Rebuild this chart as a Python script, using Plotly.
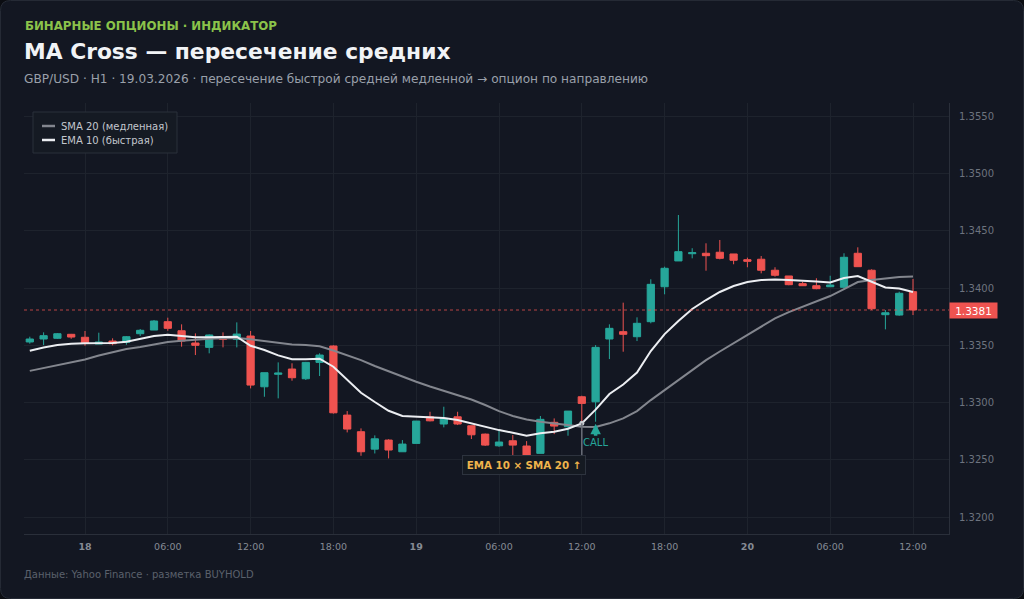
import pandas as pd
import plotly.graph_objects as go

# ---------------- data ----------------
start_time = "2026-03-17 20:00"
n_candles = 65

opens = [1.33529, 1.33555, 1.33561, 1.33596, 1.33570, 1.33511, 1.33537, 1.33526, 1.33601, 1.33633,
         1.33706, 1.33627, 1.33520, 1.33482, 1.33575, 1.33552, 1.33581, 1.33138, 1.33247, 1.33293,
         1.33208, 1.33351, 1.33494, 1.32891, 1.32746, 1.32594, 1.32673, 1.32571, 1.32644, 1.32876,
         1.32813, 1.32876, 1.32798, 1.32725, 1.32623, 1.32667, 1.32621, 1.32557, 1.32828, 1.32789,
         1.33051, 1.33007, 1.33555, 1.33619, 1.33575, 1.33706, 1.34011, 1.34236, 1.34299, 1.34303,
         1.34312, 1.34297, 1.34247, 1.34251, 1.34155, 1.34105, 1.34038, 1.34020, 1.34011, 1.34006,
         1.34303, 1.34155, 1.33767, 1.33764, 1.33968]
highs = [1.33575, 1.33613, 1.33607, 1.33599, 1.33625, 1.33610, 1.33561, 1.33581, 1.33642, 1.33721,
         1.33741, 1.33683, 1.33604, 1.33595, 1.33613, 1.33700, 1.33625, 1.33261, 1.33351, 1.33343,
         1.33355, 1.33430, 1.33500, 1.32926, 1.32775, 1.32714, 1.32680, 1.32673, 1.32839, 1.32920,
         1.32964, 1.32920, 1.32798, 1.32730, 1.32760, 1.32717, 1.32664, 1.32883, 1.32862, 1.32926,
         1.33060, 1.33502, 1.33683, 1.33872, 1.33744, 1.34076, 1.34186, 1.34637, 1.34347, 1.34390,
         1.34419, 1.34297, 1.34265, 1.34279, 1.34181, 1.34105, 1.34055, 1.34085, 1.34107, 1.34303,
         1.34355, 1.34163, 1.33808, 1.33968, 1.34079]
lows = [1.33514, 1.33502, 1.33555, 1.33557, 1.33496, 1.33511, 1.33500, 1.33505, 1.33581, 1.33633,
        1.33627, 1.33488, 1.33415, 1.33430, 1.33482, 1.33482, 1.33124, 1.33051, 1.33037, 1.33191,
        1.33197, 1.33232, 1.32904, 1.32740, 1.32536, 1.32556, 1.32513, 1.32571, 1.32644, 1.32836,
        1.32784, 1.32804, 1.32682, 1.32621, 1.32614, 1.32536, 1.32536, 1.32557, 1.32725, 1.32711,
        1.32822, 1.32833, 1.33380, 1.33444, 1.33537, 1.33692, 1.33945, 1.34236, 1.34259, 1.34151,
        1.34250, 1.34207, 1.34181, 1.34128, 1.34099, 1.34024, 1.34020, 1.33989, 1.34011, 1.33983,
        1.34186, 1.33808, 1.33639, 1.33758, 1.33764]
closes = [1.33555, 1.33584, 1.33601, 1.33572, 1.33517, 1.33529, 1.33514, 1.33575, 1.33631, 1.33712,
          1.33648, 1.33537, 1.33500, 1.33590, 1.33552, 1.33598, 1.33153, 1.33261, 1.33258, 1.33217,
          1.33351, 1.33415, 1.32911, 1.32769, 1.32571, 1.32684, 1.32586, 1.32638, 1.32839, 1.32841,
          1.32862, 1.32813, 1.32719, 1.32629, 1.32656, 1.32629, 1.32542, 1.32854, 1.32795, 1.32926,
          1.32993, 1.33482, 1.33648, 1.33596, 1.33692, 1.34032, 1.34172, 1.34317, 1.34308, 1.34282,
          1.34259, 1.34242, 1.34233, 1.34155, 1.34111, 1.34029, 1.34020, 1.33994, 1.34026, 1.34268,
          1.34186, 1.33819, 1.33784, 1.33954, 1.33808]

ema10 = [1.33453, 1.33481, 1.33502, 1.33514, 1.33517, 1.33517, 1.33520, 1.33531, 1.33557, 1.33581,
         1.33592, 1.33583, 1.33570, 1.33570, 1.33572, 1.33575, 1.33496, 1.33459, 1.33412, 1.33378,
         1.33378, 1.33383, 1.33313, 1.33203, 1.33086, 1.33005, 1.32929, 1.32883, 1.32876, 1.32871,
         1.32865, 1.32848, 1.32819, 1.32784, 1.32760, 1.32737, 1.32711, 1.32732, 1.32746, 1.32772,
         1.32819, 1.32939, 1.33075, 1.33158, 1.33262, 1.33450, 1.33598, 1.33712, 1.33817, 1.33895,
         1.33965, 1.34017, 1.34052, 1.34070, 1.34074, 1.34070, 1.34065, 1.34057, 1.34048, 1.34087,
         1.34105, 1.34052, 1.34004, 1.33996, 1.33965]
sma20 = [1.33277, 1.33303, 1.33330, 1.33354, 1.33376, 1.33411, 1.33441, 1.33467, 1.33485, 1.33507,
         1.33529, 1.33540, 1.33550, 1.33557, 1.33561, 1.33564, 1.33552, 1.33537, 1.33522, 1.33508,
         1.33502, 1.33491, 1.33454, 1.33415, 1.33371, 1.33319, 1.33271, 1.33223, 1.33182, 1.33140,
         1.33103, 1.33070, 1.33027, 1.32979, 1.32926, 1.32883, 1.32852, 1.32833, 1.32819, 1.32804,
         1.32789, 1.32787, 1.32819, 1.32862, 1.32926, 1.33022, 1.33110, 1.33197, 1.33284, 1.33371,
         1.33446, 1.33520, 1.33594, 1.33668, 1.33735, 1.33790, 1.33838, 1.33886, 1.33930, 1.33991,
         1.34052, 1.34070, 1.34081, 1.34096, 1.34100]

cross_index = 40
call_index = 41

x_tick_times = ["2026-03-18 00:00", "2026-03-18 06:00", "2026-03-18 12:00", "2026-03-18 18:00",
                "2026-03-19 00:00", "2026-03-19 06:00", "2026-03-19 12:00", "2026-03-19 18:00",
                "2026-03-20 00:00", "2026-03-20 06:00", "2026-03-20 12:00"]
x_tick_labels = ["<b>18</b>", "06:00", "12:00", "18:00", "<b>19</b>", "06:00", "12:00", "18:00",
                 "<b>20</b>", "06:00", "12:00"]
y_tick_values = [1.3200, 1.3250, 1.3300, 1.3350, 1.3400, 1.3450, 1.3500, 1.3550]

times = pd.date_range(start_time, periods=n_candles, freq="h")

# ---------------- style / layout helpers ----------------
FIG_W, FIG_H = 1024, 599
L, R, T, B = 24, 75, 103, 65
PW, PH = FIG_W - L - R, FIG_H - T - B
FONT = "DejaVu Sans"
BG = "#131722"
OUTER = "#0b0d12"
GREEN = "#26a69a"
RED = "#ef5350"
GRID = "#1e232d"
AXIS = "#2a2f3a"


def px(x):
    return (x - L) / PW


def py(y):
    return (FIG_H - B - y) / PH


PX_PER_HOUR = 13.8
PX_PER_UNIT = 11460.0
x_start = pd.Timestamp("2026-03-18 00:00") - pd.Timedelta(hours=(85 - L) / PX_PER_HOUR)
x_end = pd.Timestamp("2026-03-20 12:00") + pd.Timedelta(hours=(L + PW - 913) / PX_PER_HOUR)
y_low = 1.34 - (FIG_H - B - 288) / PX_PER_UNIT
y_high = 1.34 + (288 - T) / PX_PER_UNIT

fig = go.Figure()

fig.add_trace(go.Candlestick(
    x=times, open=opens, high=highs, low=lows, close=closes,
    increasing=dict(line=dict(color=GREEN, width=1), fillcolor=GREEN),
    decreasing=dict(line=dict(color=RED, width=1), fillcolor=RED),
    whiskerwidth=0, showlegend=False, hoverinfo="skip",
))

fig.add_trace(go.Scatter(x=times, y=sma20, mode="lines", line=dict(color="#83868e", width=2),
                         showlegend=False, hoverinfo="skip"))
fig.add_trace(go.Scatter(x=times, y=ema10, mode="lines", line=dict(color="#eceef2", width=2),
                         showlegend=False, hoverinfo="skip"))

# cross marker
fig.add_trace(go.Scatter(x=[times[cross_index]], y=[ema10[cross_index]], mode="markers",
                         marker=dict(color="#c9ccd2", size=5, symbol="circle"),
                         showlegend=False, hoverinfo="skip"))

shapes = []
# card background (rounded)
x0, x1 = px(0.5), px(FIG_W - 0.5)
y0, y1 = py(FIG_H - 0.5), py(0.5)
rx, ry = 10 / PW, 10 / PH
path = (f"M {x0 + rx},{y1} L {x1 - rx},{y1} Q {x1},{y1} {x1},{y1 - ry} "
        f"L {x1},{y0 + ry} Q {x1},{y0} {x1 - rx},{y0} L {x0 + rx},{y0} "
        f"Q {x0},{y0} {x0},{y0 + ry} L {x0},{y1 - ry} Q {x0},{y1} {x0 + rx},{y1} Z")
shapes.append(dict(type="path", path=path, xref="paper", yref="paper", layer="below",
                   fillcolor=BG, line=dict(color="#252a35", width=1)))

# last price dotted line
shapes.append(dict(type="line", xref="paper", yref="y", x0=0, x1=1, y0=closes[-1], y1=closes[-1],
                   line=dict(color="rgba(239,83,80,0.75)", width=1, dash="dot"), layer="above"))

# cross connector line to annotation
shapes.append(dict(type="line", xref="x", yref="y", x0=times[cross_index], x1=times[cross_index],
                   y0=ema10[cross_index], y1=1.34 - (456 - 288) / PX_PER_UNIT,
                   line=dict(color="#6c707a", width=1.5), layer="above"))

# manual legend
shapes.append(dict(type="rect", xref="paper", yref="paper", x0=px(33), x1=px(177), y0=py(153), y1=py(112),
                   fillcolor="#151a23", line=dict(color="#2a303b", width=1), layer="above"))
shapes.append(dict(type="line", xref="paper", yref="paper", x0=px(42), x1=px(55), y0=py(126), y1=py(126),
                   line=dict(color="#83868e", width=2.5)))
shapes.append(dict(type="line", xref="paper", yref="paper", x0=px(42), x1=px(55), y0=py(140), y1=py(140),
                   line=dict(color="#eceef2", width=2.5)))

annotations = []


def text_ann(x, y, text, size, color, bold=False, xanchor="left"):
    return dict(x=px(x), y=py(y), xref="paper", yref="paper", text=(f"<b>{text}</b>" if bold else text),
                showarrow=False, xanchor=xanchor, yanchor="middle",
                font=dict(family=FONT, size=size, color=color))


annotations.append(text_ann(23, 26, "БИНАРНЫЕ ОПЦИОНЫ · ИНДИКАТОР", 11.8, "#8bc34a", bold=True))
annotations.append(text_ann(22, 52, "MA Cross — пересечение средних", 21.8, "#f1f3f6", bold=True))
annotations.append(text_ann(22, 79, "GBP/USD · H1 · 19.03.2026 · пересечение быстрой средней медленной → опцион по направлению",
                            12.15, "#9aa0aa"))
annotations.append(text_ann(22, 574, "Данные: Yahoo Finance · разметка BUYHOLD", 10, "#5b616c"))
annotations.append(text_ann(59, 126, "SMA 20 (медленная)", 10, "#c3c7ce"))
annotations.append(text_ann(59, 140, "EMA 10 (быстрая)", 10, "#c3c7ce"))

# cross label box
annotations.append(dict(x=px(523.5), y=py(465), xref="paper", yref="paper",
                        text="<b>EMA 10 × SMA 20 ↑</b>", showarrow=False,
                        xanchor="center", yanchor="middle", width=118, height=14,
                        font=dict(family=FONT, size=10.3, color="#f0b44c"),
                        bgcolor="#151a22", bordercolor="#2d333e", borderwidth=1, borderpad=2))

# CALL arrow
annotations.append(dict(x=times[call_index], y=lows[call_index], xref="x", yref="y",
                        text="CALL", showarrow=True, arrowhead=2, arrowsize=0.6, arrowwidth=3.5,
                        arrowcolor=GREEN, ax=0, ay=21, standoff=2,
                        font=dict(family=FONT, size=10, color=GREEN)))

# last price tag
annotations.append(dict(x=1, y=closes[-1], xref="paper", yref="y", text=f"{closes[-1]:.4f}",
                        showarrow=False, xanchor="left", yanchor="middle", width=45, height=13,
                        align="center",
                        font=dict(family=FONT, size=10.5, color="#ffffff"),
                        bgcolor=RED, borderpad=1))

fig.update_layout(
    width=FIG_W, height=FIG_H,
    margin=dict(l=L, r=R, t=T, b=B),
    paper_bgcolor=OUTER, plot_bgcolor="rgba(0,0,0,0)",
    boxgap=0.25,
    showlegend=False,
    shapes=shapes, annotations=annotations,
    xaxis=dict(type="date", range=[x_start, x_end], tickvals=pd.to_datetime(x_tick_times),
               ticktext=x_tick_labels, showgrid=True, gridcolor=GRID, gridwidth=1,
               showline=True, linecolor=AXIS, linewidth=1, ticks="", zeroline=False,
               rangeslider=dict(visible=False), ticklabelstandoff=4,
               tickfont=dict(family=FONT, size=9.5, color="#858b95")),
    yaxis=dict(side="right", range=[y_low, y_high], tickvals=y_tick_values, tickformat=".4f",
               showgrid=True, gridcolor=GRID, gridwidth=1, showline=True, linecolor=AXIS, linewidth=1,
               ticks="", zeroline=False, ticklabelstandoff=7,
               tickfont=dict(family=FONT, size=10, color="#6d737e")),
    font=dict(family=FONT),
)

fig.write_html("out.html", config={"displayModeBar": False},
               post_script="document.body.style.margin='0';document.body.style.background='#0b0d12';")
